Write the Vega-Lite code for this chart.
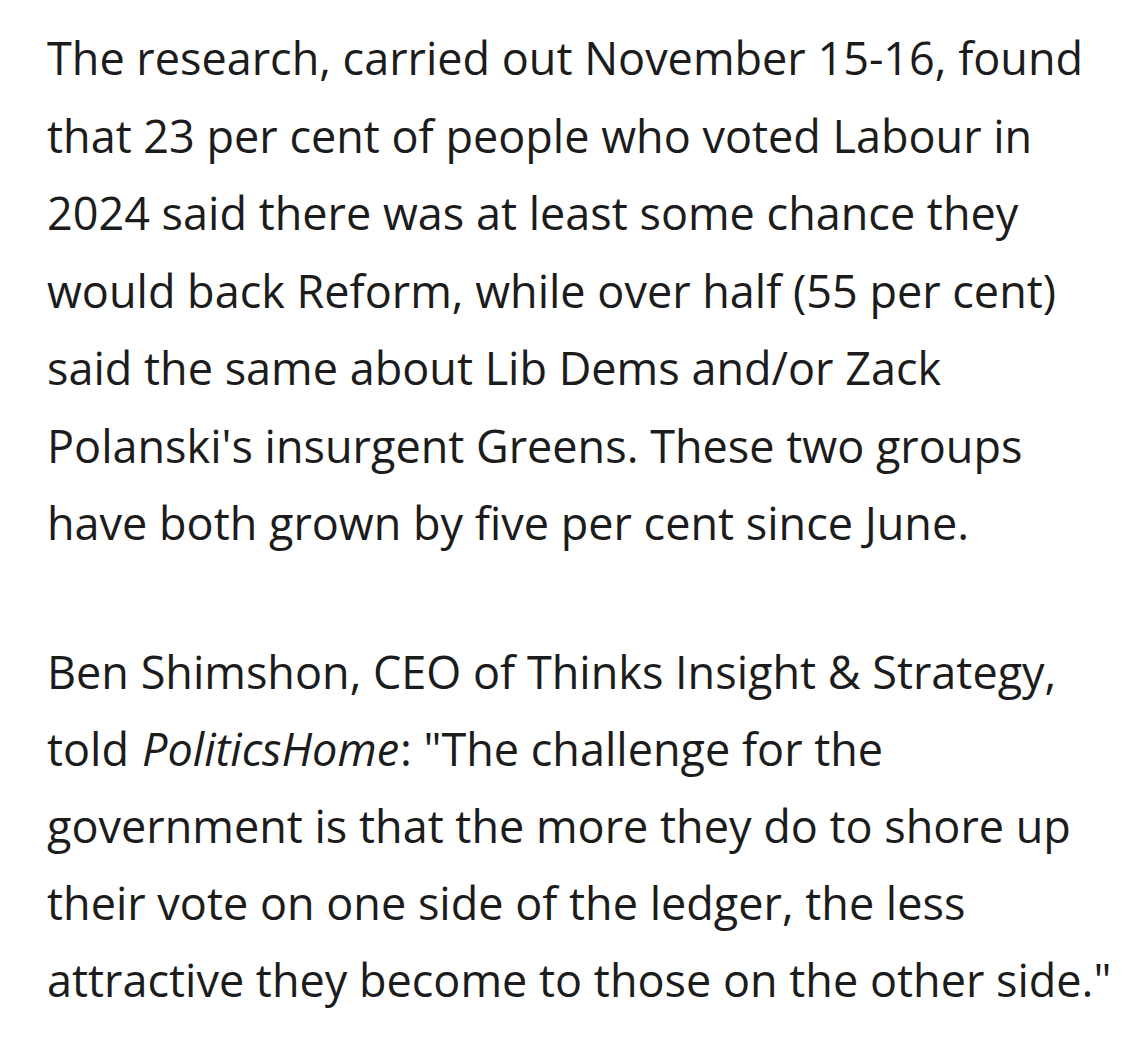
{
  "$schema": "https://vega.github.io/schema/vega-lite/v6.json",
  "background": "#ffffff",
  "padding": {"left": 47, "top": 0, "right": 0, "bottom": 60},
  "config": {
    "view": {"stroke": null},
    "text": {"font": "Open Sans", "fontSize": 45, "color": "#1c1c1c", "align": "left", "baseline": "alphabetic", "dy": -2.5}
  },
  "datasets": {
    "para1": [
      {"line": 1, "text": "The research, carried out November 15-16, found"},
      {"line": 2, "text": "that 23 per cent of people who voted Labour in"},
      {"line": 3, "text": "2024 said there was at least some chance they"},
      {"line": 4, "text": "would back Reform, while over half (55 per cent)"},
      {"line": 5, "text": "said the same about Lib Dems and/or Zack"},
      {"line": 6, "text": "Polanski's insurgent Greens. These two groups"},
      {"line": 7, "text": "have both grown by five per cent since June."}
    ],
    "para2": [
      {"line": 1, "seg": "a", "text": "Ben Shimshon, CEO of Thinks Insight & Strategy,"},
      {"line": 2, "seg": "a", "text": "told"},
      {"line": 2, "seg": "i", "text": "PoliticsHome"},
      {"line": 2, "seg": "b", "text": ": \"The challenge for the"},
      {"line": 3, "seg": "a", "text": "government is that the more they do to shore up"},
      {"line": 4, "seg": "a", "text": "their vote on one side of the ledger, the less"},
      {"line": 5, "seg": "a", "text": "attractive they become to those on the other side.\""}
    ]
  },
  "spacing": 65,
  "vconcat": [
    {
      "width": 1090,
      "height": 542.5,
      "data": {"name": "para1"},
      "mark": "text",
      "encoding": {
        "x": {"datum": 0, "type": "quantitative", "scale": {"domain": [0, 1]}, "axis": null},
        "y": {"field": "line", "type": "quantitative", "scale": {"domain": [0, 7], "reverse": true}, "axis": null},
        "text": {"field": "text"}
      }
    },
    {
      "width": 1090,
      "height": 385,
      "data": {"name": "para2"},
      "encoding": {
        "x": {"datum": 0, "type": "quantitative", "scale": {"domain": [0, 1]}, "axis": null},
        "y": {"field": "line", "type": "quantitative", "scale": {"domain": [0, 5], "reverse": true}, "axis": null},
        "text": {"field": "text"}
      },
      "layer": [
        {
          "transform": [{"filter": "datum.seg == 'a'"}],
          "mark": {"type": "text"}
        },
        {
          "transform": [{"filter": "datum.seg == 'i'"}],
          "mark": {"type": "text", "fontStyle": "italic", "dx": 95}
        },
        {
          "transform": [{"filter": "datum.seg == 'b'"}],
          "mark": {"type": "text", "dx": 353}
        }
      ]
    }
  ]
}
